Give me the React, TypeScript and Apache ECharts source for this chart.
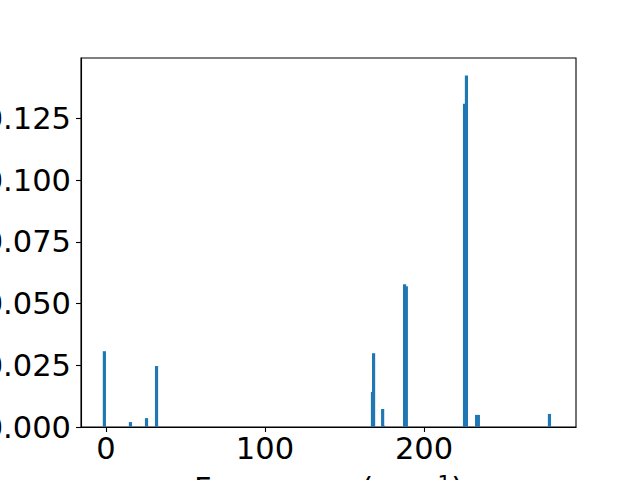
import React, { useEffect, useRef } from "react";
import * as echarts from "echarts";

// Frequencies (cm^-1) and intensities
const frequencies = [-1.0, 15.4, 25.5, 31.8, 167.6, 168.3, 174.0, 174.7, 187.8, 188.9, 225.5, 226.7, 233.1, 234.2, 278.9];
const intensities = [0.0307, 0.002, 0.0036, 0.0247, 0.0142, 0.0299, 0.0073, 0.0005, 0.0578, 0.057, 0.131, 0.1424, 0.0049, 0.0049, 0.0053];
const xTicks = [0, 100, 200];
const yTicks = [0, 0.025, 0.05, 0.075, 0.1, 0.125];
const BAR_WIDTH = 2;

export default function App() {
  const ref = useRef<HTMLDivElement>(null);
  useEffect(() => {
    if (!ref.current) return;
    const chart = echarts.init(ref.current, null, { renderer: "svg" });
    const font = "DejaVu Sans";
    const fs = 30.5;
    chart.setOption({
      animation: false,
      backgroundColor: "#ffffff",
      grid: {
        left: 81,
        right: 64,
        top: 58,
        bottom: 53,
        containLabel: false,
        outerBoundsMode: "none",
        show: true,
        borderColor: "#000",
        borderWidth: 1.1,
        backgroundColor: "#fff",
      },
      xAxis: {
        type: "value",
        min: -15.7,
        max: 295.6,
        name: "Frequency (cm{sup|−1})",
        nameLocation: "middle",
        nameGap: 46,
        nameTextStyle: {
          fontFamily: font,
          fontSize: fs,
          color: "#000",
          rich: {
            sup: { fontFamily: font, fontSize: 21.4, color: "#000", verticalAlign: "top" },
          },
        },
        axisLine: { show: true, onZero: false, lineStyle: { color: "#000", width: 1.1 } },
        axisTick: { show: true, length: 5, customValues: xTicks, lineStyle: { color: "#000", width: 1.1 } },
        axisLabel: {
          customValues: xTicks,
          margin: 6,
          fontFamily: font,
          fontSize: fs,
          color: "#000",
          formatter: (v: number) => String(v),
        },
        splitLine: { show: false },
      },
      yAxis: {
        type: "value",
        min: 0,
        max: 0.1495,
        axisLine: { show: true, onZero: false, lineStyle: { color: "#000", width: 1.1 } },
        axisTick: { show: true, length: 5, customValues: yTicks, lineStyle: { color: "#000", width: 1.1 } },
        axisLabel: {
          customValues: yTicks,
          margin: 10,
          fontFamily: font,
          fontSize: fs,
          color: "#000",
          formatter: (v: number) => v.toFixed(3),
        },
        splitLine: { show: false },
      },
      series: [
        {
          type: "custom",
          data: frequencies.map((f, i) => [f, intensities[i]]),
          encode: { x: 0, y: 1 },
          renderItem: (params: any, api: any) => {
            const x = api.value(0);
            const y = api.value(1);
            const p0 = api.coord([x - BAR_WIDTH / 2, y]);
            const p1 = api.coord([x + BAR_WIDTH / 2, 0]);
            return {
              type: "rect",
              shape: { x: p0[0], y: p0[1], width: p1[0] - p0[0], height: p1[1] - p0[1] },
              style: { fill: "#1f77b4" },
            };
          },
        },
      ],
    });
    return () => chart.dispose();
  }, []);
  return (
    <div
      ref={ref}
      style={{ position: "absolute", left: 0, top: 0, width: 640, height: 480, background: "#fff" }}
    />
  );
}
